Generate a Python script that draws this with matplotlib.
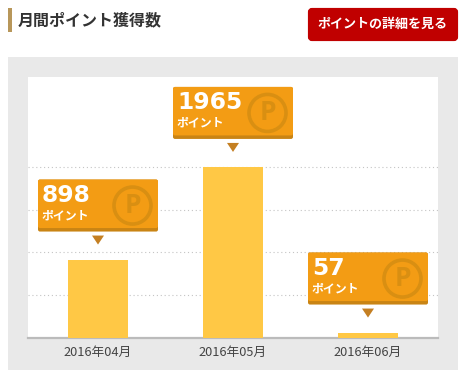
import matplotlib
matplotlib.use('Agg')
import matplotlib.pyplot as plt
from matplotlib.patches import Rectangle, FancyBboxPatch, Circle, Polygon

plt.rcParams['font.family'] = ['Noto Sans CJK JP', 'DejaVu Sans']

months = ['2016年04月', '2016年05月', '2016年06月']
points = [898, 1965, 57]
grid_values = [491, 982, 1474, 1965]

W, H = 463, 384
fig = plt.figure(figsize=(W / 100, H / 100), dpi=100, facecolor='white')


def pixel_axes(zorder):
    a = fig.add_axes([0, 0, 1, 1], zorder=zorder)
    a.set_xlim(0, W)
    a.set_ylim(H, 0)
    a.axis('off')
    return a


# background, title and button
bg = pixel_axes(0)
bg.add_patch(Rectangle((8, 57), 450, 313, fc='#e9e9e9', ec='none'))
bg.add_patch(Rectangle((8, 8), 4, 24, fc='#b8975a', ec='none'))
bg.text(18, 20, '月間ポイント獲得数', fontsize=11.5, fontweight='bold', color='#333333',
        va='center', ha='left')
bg.add_patch(FancyBboxPatch((310, 10), 146, 29, boxstyle='round,pad=0,rounding_size=2',
                            fc='#c00000', ec='#c00000', lw=3))
bg.text(383, 23.5, 'ポイントの詳細を見る', fontsize=9.4, fontweight='bold', color='white',
        va='center', ha='center')

# chart
ax = fig.add_axes([28 / W, 1 - 337.5 / H, 410 / W, 260.5 / H], zorder=1)
ax.set_facecolor('white')
x = list(range(len(months)))
ax.bar(x, points, width=60 / 135, color='#ffc845', zorder=3)
ax.set_xlim(-70 / 135, 2 + 70 / 135)
ax.set_ylim(0, 3001)
ax.set_xticks(x)
ax.set_xticklabels(months, fontsize=9.2, color='#444444')
ax.set_yticks(grid_values)
ax.tick_params(axis='both', length=0, pad=6)
ax.tick_params(axis='y', labelleft=False)
ax.grid(axis='y', color='#c4c4c4', linestyle=(0, (1, 2.5)), linewidth=0.8)
ax.set_axisbelow(True)
for name in ['top', 'left', 'right']:
    ax.spines[name].set_visible(False)
ax.spines['bottom'].set_color('#bbbbbb')
ax.spines['bottom'].set_linewidth(1.6)

# callouts sit a fixed pixel distance above each bar
top = pixel_axes(2)
fig.canvas.draw()
for i, val in enumerate(points):
    px, py = ax.transData.transform((i, val))
    cx = px
    bar_top = H - py
    y1 = bar_top - 28
    y0 = y1 - 52
    x0 = cx - 60
    top.add_patch(FancyBboxPatch((x0, y0), 120, 52, boxstyle='round,pad=0,rounding_size=2',
                                 fc='#c98414', ec='none'))
    top.add_patch(FancyBboxPatch((x0, y0), 120, 48.5, boxstyle='round,pad=0,rounding_size=2',
                                 fc='#f39c14', ec='none'))
    top.add_patch(Polygon([(cx - 6, y1 + 4), (cx + 6, y1 + 4), (cx, y1 + 13)], fc='#c47f22', ec='none'))
    top.add_patch(Circle((cx + 34.5, y0 + 26), 18.5, fc='none', ec='#d98f12', lw=2.6))
    top.text(cx + 35, y0 + 26, 'P', fontsize=19, fontweight='bold', color='#d98f12',
             family='Open Sans', va='center', ha='center')
    top.text(x0 + 4, y0 + 16, str(val), fontsize=16.8, fontweight='bold', color='white',
             family='DejaVu Sans', va='center', ha='left')
    top.text(x0 + 4, y0 + 36, 'ポイント', fontsize=8.6, fontweight='bold', color='white',
             va='center', ha='left')

fig.savefig('out.png', dpi=100)
